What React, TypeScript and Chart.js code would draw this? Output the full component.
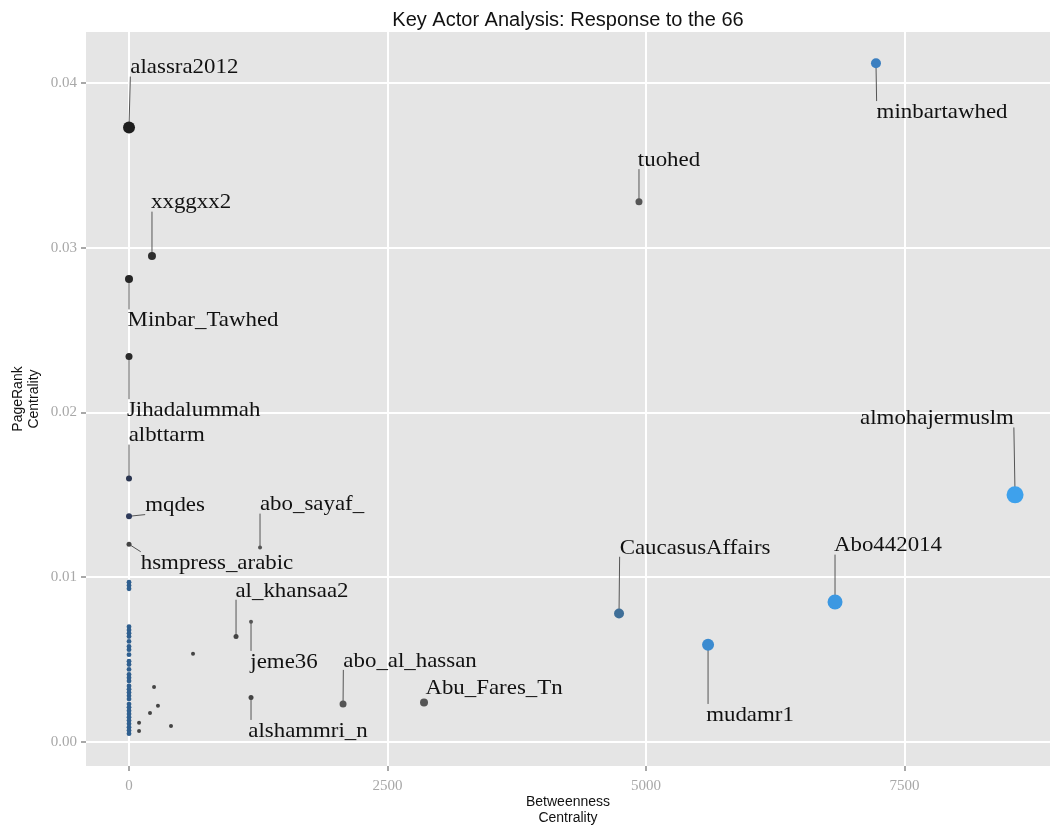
import React, { useEffect, useRef } from "react";
import { Chart, registerables } from "chart.js";

Chart.register(...registerables);

const TITLE = "Key Actor Analysis: Response to the 66";
const X_TITLE = ["Betweenness", "Centrality"];
const Y_TITLE = ["PageRank", "Centrality"];
const X_TICKS = [0, 2500, 5000, 7500];
const Y_TICKS = [0, 0.01, 0.02, 0.03, 0.04];

// Labelled actors
const actorNames = [
  "alassra2012", "xxggxx2", "Minbar_Tawhed", "Jihadalummah", "albttarm", "mqdes",
  "hsmpress_arabic", "abo_sayaf_", "al_khansaa2", "jeme36", "alshammri_n",
  "abo_al_hassan", "Abu_Fares_Tn", "tuohed", "minbartawhed", "CaucasusAffairs",
  "mudamr1", "Abo442014", "almohajermuslm",
];
const actorBetweenness = [0, 222, 0, 0, 0, 0, 0, 1267, 1035, 1180, 1180, 2070, 2853, 4932, 7224, 4739, 5600, 6828, 8569];
const actorPageRank = [0.0373, 0.0295, 0.0281, 0.0234, 0.016, 0.0137, 0.012, 0.0118, 0.0064, 0.0073, 0.0027, 0.0023, 0.0024, 0.0328, 0.0412, 0.0078, 0.0059, 0.0085, 0.015];

// Label placement (data coordinates of the text centre)
const labelBetweenness = [535, 600, 716, 625, 365, 445, 851, 1770, 1576, 1499, 1731, 2718, 3530, 5222, 7863, 5474, 6006, 7340, 7814];
const labelPageRank = [0.041, 0.0328, 0.02565, 0.0202, 0.01866, 0.01441, 0.01094, 0.01447, 0.00924, 0.00492, 0.00073, 0.00498, 0.00334, 0.03538, 0.0383, 0.01185, 0.0017, 0.01198, 0.0197];

// Unlabelled actors
const otherBetweenness = [
  0, 0, 0, 0, 0, 0, 0, 0, 0, 0, 0, 0, 0, 0, 0, 0, 0, 0, 0, 0, 0, 0, 0, 0, 0, 0, 0, 0, 0, 0, 0, 0,
  619, 242, 280, 203, 406, 97, 97,
];
const otherPageRank = [
  0.0097, 0.0095, 0.0093, 0.007, 0.0068, 0.0066, 0.0064, 0.0061, 0.0058, 0.0056, 0.0053,
  0.0049, 0.0047, 0.0044, 0.0041, 0.0039, 0.0037, 0.0034, 0.0032, 0.003, 0.0028, 0.0026,
  0.0023, 0.0021, 0.0019, 0.0017, 0.0015, 0.0013, 0.0011, 0.0009, 0.0007, 0.0005,
  0.00535, 0.00334, 0.0022, 0.00176, 0.00097, 0.00116, 0.00067,
];

// Styles
const actorRadius = [6, 4, 4, 3.5, 3, 3, 2.5, 2, 2.5, 2, 2.5, 3.5, 4, 3.5, 5, 5, 6, 7.5, 8.5];
const actorColor = [
  "#1e1e1e", "#2e2e2e", "#262626", "#2a2a2a", "#2a3550", "#2e3a5a", "#444444", "#555555",
  "#444444", "#555555", "#444444", "#555555", "#555555", "#555555", "#3b7fc0", "#3f6f98",
  "#3b8bd0", "#3c98e2", "#3ea1ec",
];
const otherColorBlue = "#2f5f8f";
const otherColorGray = "#444444";

const PANEL_BG = "#e5e5e5";
const TICK_GRAY = "#a8a8a8";

const panelPlugin = {
  id: "panelBg",
  beforeDraw(chart: any) {
    const { ctx, chartArea } = chart;
    const { left, top, right, bottom } = chartArea;
    ctx.save();
    ctx.fillStyle = PANEL_BG;
    ctx.fillRect(left, top, right - left, bottom - top);
    ctx.restore();
  },
};

const LABEL_FONT = "22px 'Liberation Serif', 'Times New Roman', serif";
const LABEL_STRETCH = 1.04;

function labelBoxes(chart: any) {
  const xs = chart.scales.x;
  const ys = chart.scales.y;
  const ctx = chart.ctx;
  ctx.save();
  ctx.font = LABEL_FONT;
  const out = actorNames.map((name, i) => {
    const cx = xs.getPixelForValue(labelBetweenness[i]);
    const cy = ys.getPixelForValue(labelPageRank[i]);
    const w = ctx.measureText(name).width * LABEL_STRETCH;
    const h = 20;
    const px = xs.getPixelForValue(actorBetweenness[i]);
    const py = ys.getPixelForValue(actorPageRank[i]);
    return { name, cx, cy, w, h, px, py };
  });
  ctx.restore();
  return out;
}

const labelPlugin = {
  id: "repelLabels",
  beforeDatasetsDraw(chart: any) {
    const ctx = chart.ctx;
    ctx.save();
    ctx.strokeStyle = "#555555";
    ctx.lineWidth = 1;
    for (const b of labelBoxes(chart)) {
      const l = b.cx - b.w / 2;
      const r = b.cx + b.w / 2;
      const t = b.cy - b.h / 2;
      const bt = b.cy + b.h / 2;
      const nx = Math.min(Math.max(b.px, l), r);
      const ny = Math.min(Math.max(b.py, t), bt);
      const d = Math.hypot(nx - b.px, ny - b.py);
      if (d > 6) {
        ctx.beginPath();
        ctx.moveTo(b.px, b.py);
        ctx.lineTo(nx, ny);
        ctx.stroke();
      }
    }
    ctx.restore();
  },
  afterDatasetsDraw(chart: any) {
    const ctx = chart.ctx;
    for (const b of labelBoxes(chart)) {
      ctx.save();
      ctx.font = LABEL_FONT;
      ctx.fillStyle = "#111111";
      ctx.textAlign = "center";
      ctx.textBaseline = "middle";
      ctx.translate(b.cx, b.cy + 1);
      ctx.scale(LABEL_STRETCH, 1);
      ctx.fillText(b.name, 0, 0);
      ctx.restore();
    }
  },
};

export default function App() {
  const ref = useRef<HTMLCanvasElement | null>(null);

  useEffect(() => {
    document.body.style.margin = "0";
    const canvas = ref.current;
    if (!canvas) return;

    const otherPoints = otherBetweenness.map((x, i) => ({ x, y: otherPageRank[i] }));
    const actorPoints = actorBetweenness.map((x, i) => ({ x, y: actorPageRank[i] }));

    const chart = new Chart(canvas, {
      type: "scatter",
      data: {
        datasets: [
          {
            label: "others",
            data: otherPoints,
            pointRadius: otherBetweenness.map((x) => (x === 0 ? 2.4 : 2)),
            pointBackgroundColor: otherBetweenness.map((x) => (x === 0 ? otherColorBlue : otherColorGray)),
            pointBorderWidth: 0,
            pointHoverRadius: 0,
          },
          {
            label: "actors",
            data: actorPoints,
            pointRadius: actorRadius,
            pointBackgroundColor: actorColor,
            pointBorderWidth: 0,
            pointHoverRadius: 0,
          },
        ],
      },
      options: {
        responsive: false,
        animation: false,
        events: [],
        layout: { padding: 0, autoPadding: false },
        plugins: {
          legend: { display: false },
          tooltip: { enabled: false },
          title: {
            display: true,
            fullSize: false,
            text: TITLE,
            color: "#111111",
            font: { family: "'Liberation Sans', Arial, sans-serif", size: 20, weight: "normal", lineHeight: 1.2 },
            padding: { top: 8, bottom: 0 },
          },
        },
        scales: {
          x: {
            type: "linear",
            min: -416,
            max: 8907,
            afterBuildTicks: (scale: any) => {
              scale.ticks = X_TICKS.map((v) => ({ value: v }));
            },
            afterFit: (scale: any) => {
              scale.height = 61;
              scale.paddingLeft = 0;
              scale.paddingRight = 0;
            },
            border: { display: false },
            grid: {
              color: "#ffffff",
              lineWidth: 2,
              tickColor: TICK_GRAY,
              tickLength: 5,
              drawTicks: true,
            },
            ticks: {
              color: TICK_GRAY,
              padding: 6,
              font: { family: "'Liberation Serif', serif", size: 15 },
              callback: (v: any) => String(v),
              maxRotation: 0,
            },
            title: {
              display: true,
              text: X_TITLE,
              color: "#111111",
              font: { family: "'Liberation Sans', Arial, sans-serif", size: 14, lineHeight: 1.2 },
              padding: { top: 0, bottom: 0 },
            },
          },
          y: {
            type: "linear",
            min: -0.00146,
            max: 0.0431,
            afterBuildTicks: (scale: any) => {
              scale.ticks = Y_TICKS.map((v) => ({ value: v }));
            },
            afterFit: (scale: any) => {
              scale.width = 86;
              scale.paddingTop = 0;
              scale.paddingBottom = 0;
            },
            border: { display: false },
            grid: {
              color: "#ffffff",
              lineWidth: 2,
              tickColor: TICK_GRAY,
              tickLength: 5,
              drawTicks: true,
            },
            ticks: {
              color: TICK_GRAY,
              padding: 4,
              font: { family: "'Liberation Serif', serif", size: 15 },
              callback: (v: any) => Number(v).toFixed(2),
            },
            title: {
              display: true,
              text: Y_TITLE,
              color: "#111111",
              font: { family: "'Liberation Sans', Arial, sans-serif", size: 14, lineHeight: 1.15 },
              padding: { top: 10, bottom: 0 },
            },
          },
        },
      },
      plugins: [panelPlugin, labelPlugin],
    });

    return () => {
      chart.destroy();
    };
  }, []);

  return (
    <div style={{ width: 1050, height: 827, background: "#ffffff" }}>
      <canvas ref={ref} width={1050} height={827} style={{ display: "block" }} />
    </div>
  );
}
